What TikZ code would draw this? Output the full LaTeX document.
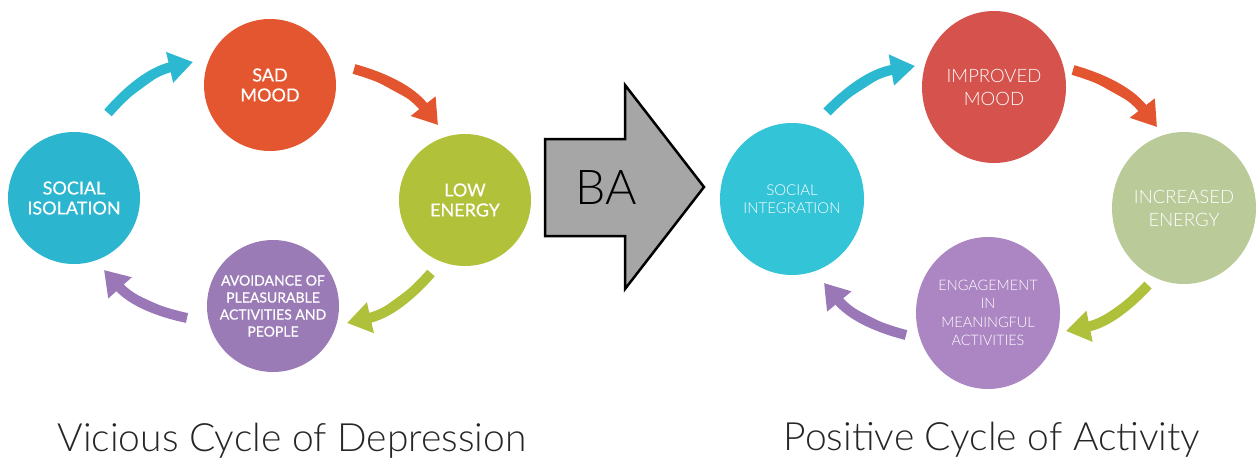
\documentclass[tikz,border=0pt]{standalone}
\usepackage{fontspec}
\setmainfont{Lato}
\newfontfamily\lightfont{Lato Light}
\newfontfamily\medfont{Lato}[FakeBold=0.4]
\usetikzlibrary{arrows.meta,shapes.geometric}
\definecolor{cyanL}{HTML}{2BB5CF}
\definecolor{orangeL}{HTML}{E3562F}
\definecolor{greenL}{HTML}{B2C13A}
\definecolor{purpleL}{HTML}{9B7BB6}
\definecolor{cyanR}{HTML}{33C4D7}
\definecolor{redR}{HTML}{D5534C}
\definecolor{sageR}{HTML}{BACA99}
\definecolor{purpleR}{HTML}{AC85C3}
\definecolor{acyan}{HTML}{2DB8D1}
\definecolor{aorange}{HTML}{E3552F}
\definecolor{agreen}{HTML}{AFC03A}
\definecolor{apurple}{HTML}{9A78B8}
\definecolor{baGray}{HTML}{A6A6A6}
\tikzset{
  cycL/.style={circle, minimum size=132pt, inner sep=0pt, text=white, align=center, font=\medfont\fontsize{18}{20}\selectfont},
  cycR/.style={ellipse, minimum width=144pt, minimum height=152pt, inner sep=0pt, text=white, align=center, font=\lightfont\fontsize{18.5}{23}\selectfont},
  flow/.style={line width=10pt, -{Triangle[length=24pt,width=30pt]}},
  title/.style={font=\lightfont\fontsize{39}{44}\selectfont, text=black!85}
}
\begin{document}
\begin{tikzpicture}[x=1pt,y=-1pt]
\useasboundingbox (0,0) rectangle (1257,463);
% left cycle
\node[cycL, fill=orangeL] (sm) at (270,85) {SAD\\MOOD};
\node[cycL, fill=cyanL] (si) at (74,198) {SOCIAL\\ISOLATION};
\node[cycL, fill=greenL] (le) at (465,200) {LOW\\ENERGY};
\node[cycL, fill=purpleL, font=\medfont\fontsize{14}{17}\selectfont] (av) at (273,306) {AVOIDANCE OF\\PLEASURABLE\\ACTIVITIES AND\\PEOPLE};
\coordinate (a1s) at (108,113); \coordinate (a1e) at (193,62);
\coordinate (a2s) at (354,69);  \coordinate (a2e) at (438,125);
\coordinate (a3s) at (431,273); \coordinate (a3e) at (347,323);
\coordinate (a4s) at (187,318); \coordinate (a4e) at (104,270);
\draw[flow, draw=acyan, fill=acyan] (a1s) to[bend left=18] (a1e);
\draw[flow, draw=aorange, fill=aorange] (a2s) to[bend left=18] (a2e);
\draw[flow, draw=agreen, fill=agreen] (a3s) to[bend left=18] (a3e);
\draw[flow, draw=apurple, fill=apurple] (a4s) to[bend left=18] (a4e);
% BA arrow
\draw[line width=2.5pt, fill=baGray, line join=miter]
  (545,139) -- (625,139) -- (625,85) -- (704,187) -- (625,289) -- (625,236) -- (545,236) -- cycle;
\node[font=\lightfont\fontsize{48}{48}\selectfont, inner sep=0pt] (ba) at (606,188) {BA};
% right cycle
\node[cycR, fill=redR] (imp) at (994,87) {IMPROVED\\MOOD};
\node[cycR, fill=cyanR, font=\lightfont\fontsize{15}{18}\selectfont] (soc) at (792,199) {SOCIAL\\INTEGRATION};
\node[cycR, fill=sageR] (inc) at (1184,208) {INCREASED\\ENERGY};
\node[cycR, fill=purpleR, font=\lightfont\fontsize{14.5}{18.5}\selectfont] (eng) at (988,313) {ENGAGEMENT\\IN\\MEANINGFUL\\ACTIVITIES};
\coordinate (b1s) at (827,112); \coordinate (b1e) at (915,66);
\coordinate (b2s) at (1073,70); \coordinate (b2e) at (1157,127);
\coordinate (b3s) at (1148,285); \coordinate (b3e) at (1066,331);
\coordinate (b4s) at (906,335); \coordinate (b4e) at (824,283);
\draw[flow, draw=acyan, fill=acyan] (b1s) to[bend left=18] (b1e);
\draw[flow, draw=aorange, fill=aorange] (b2s) to[bend left=18] (b2e);
\draw[flow, draw=agreen, fill=agreen] (b3s) to[bend left=18] (b3e);
\draw[flow, draw=apurple, fill=apurple] (b4s) to[bend left=18] (b4e);
% titles
\node[title] (t1) at (292,441) {Vicious Cycle of Depression};
\node[title] (t2) at (992,440) {Positive Cycle of Activity};
\end{tikzpicture}
\end{document}
